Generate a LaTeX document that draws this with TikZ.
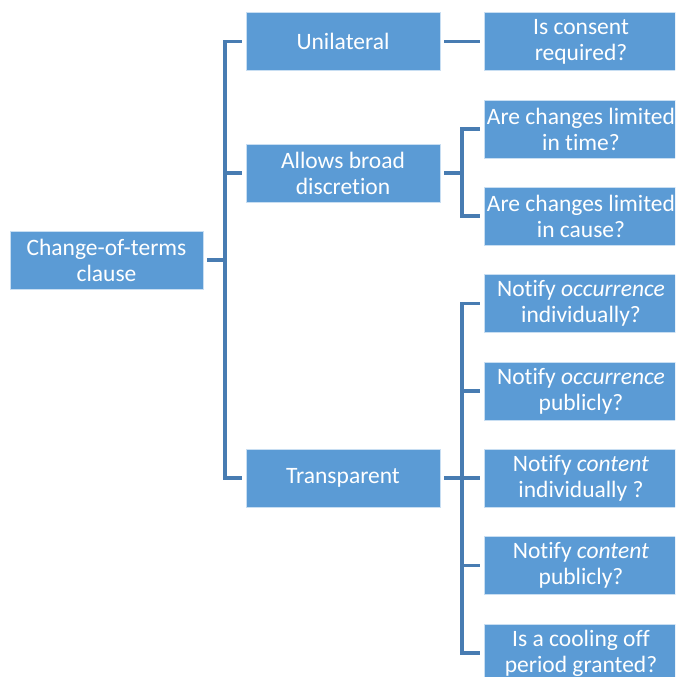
\documentclass[tikz,border=0pt]{standalone}
\usepackage{fontspec}
\setmainfont[Ligatures=NoCommon]{Carlito}
\definecolor{boxfill}{RGB}{91,155,213}
\definecolor{boxedge}{RGB}{200,222,242}
\definecolor{connblue}{RGB}{72,124,178}
\begin{document}
\begin{tikzpicture}[x=1pt,y=-1pt,
  box/.style={rectangle,fill=boxfill,draw=boxedge,line width=0.8pt,text=white,
    minimum width=194pt,minimum height=58pt,inner sep=1pt,align=center,
    font=\fontsize{23.5}{26}\selectfont},
  conn/.style={draw=connblue,line width=3.2pt,line join=miter,line cap=butt}]
\useasboundingbox (0,0) rectangle (675,677);
\clip (0,0) rectangle (675,677);
% nodes
\node[box,minimum width=193pt] (root) at (106.5,260) {Change-of-terms\\clause};
\node[box] (uni) at (343,41.5) {Unilateral};
\node[box] (allow) at (343,173) {Allows broad\\discretion};
\node[box] (trans) at (343,478) {Transparent};
\node[box] (cons) at (581,41.5) {Is consent\\required?};
\node[box] (ltime) at (581,129) {Are changes limited\\in time?};
\node[box] (lcause) at (581,216) {Are changes limited\\in cause?};
\node[box] (occi) at (581,303.5) {Notify \textit{occurrence}\\individually?};
\node[box] (occp) at (581,391) {Notify \textit{occurrence}\\publicly?};
\node[box] (coni) at (581,478) {Notify \textit{content}\\individually ?};
\node[box] (conp) at (581,565.5) {Notify \textit{content}\\publicly?};
\node[box] (cool) at (581,653) {Is a cooling off\\period granted?};
% bus coordinates
\coordinate (busA) at (225,0);
\coordinate (busB) at (462,0);
% root to level 1
\draw[conn] ([xshift=4pt]root.east) -- (busA |- root.east);
\draw[conn] ([xshift=-4pt]uni.west) -| (busA |- trans.west) -- ([xshift=-4pt]trans.west);
\draw[conn] (busA |- allow.west) -- ([xshift=-4pt]allow.west);
% unilateral
\draw[conn] ([xshift=4pt]uni.east) -- ([xshift=-4pt]cons.west);
% allows broad discretion
\draw[conn] ([xshift=4pt]allow.east) -- (busB |- allow.east);
\draw[conn] ([xshift=-4pt]ltime.west) -| (busB |- lcause.west) -- ([xshift=-4pt]lcause.west);
% transparent
\draw[conn] ([xshift=4pt]trans.east) -- (busB |- trans.east);
\draw[conn] ([xshift=-4pt]occi.west) -| (busB |- cool.west) -- ([xshift=-4pt]cool.west);
\draw[conn] (busB |- occp.west) -- ([xshift=-4pt]occp.west);
\draw[conn] (busB |- coni.west) -- ([xshift=-4pt]coni.west);
\draw[conn] (busB |- conp.west) -- ([xshift=-4pt]conp.west);
\end{tikzpicture}
\end{document}
